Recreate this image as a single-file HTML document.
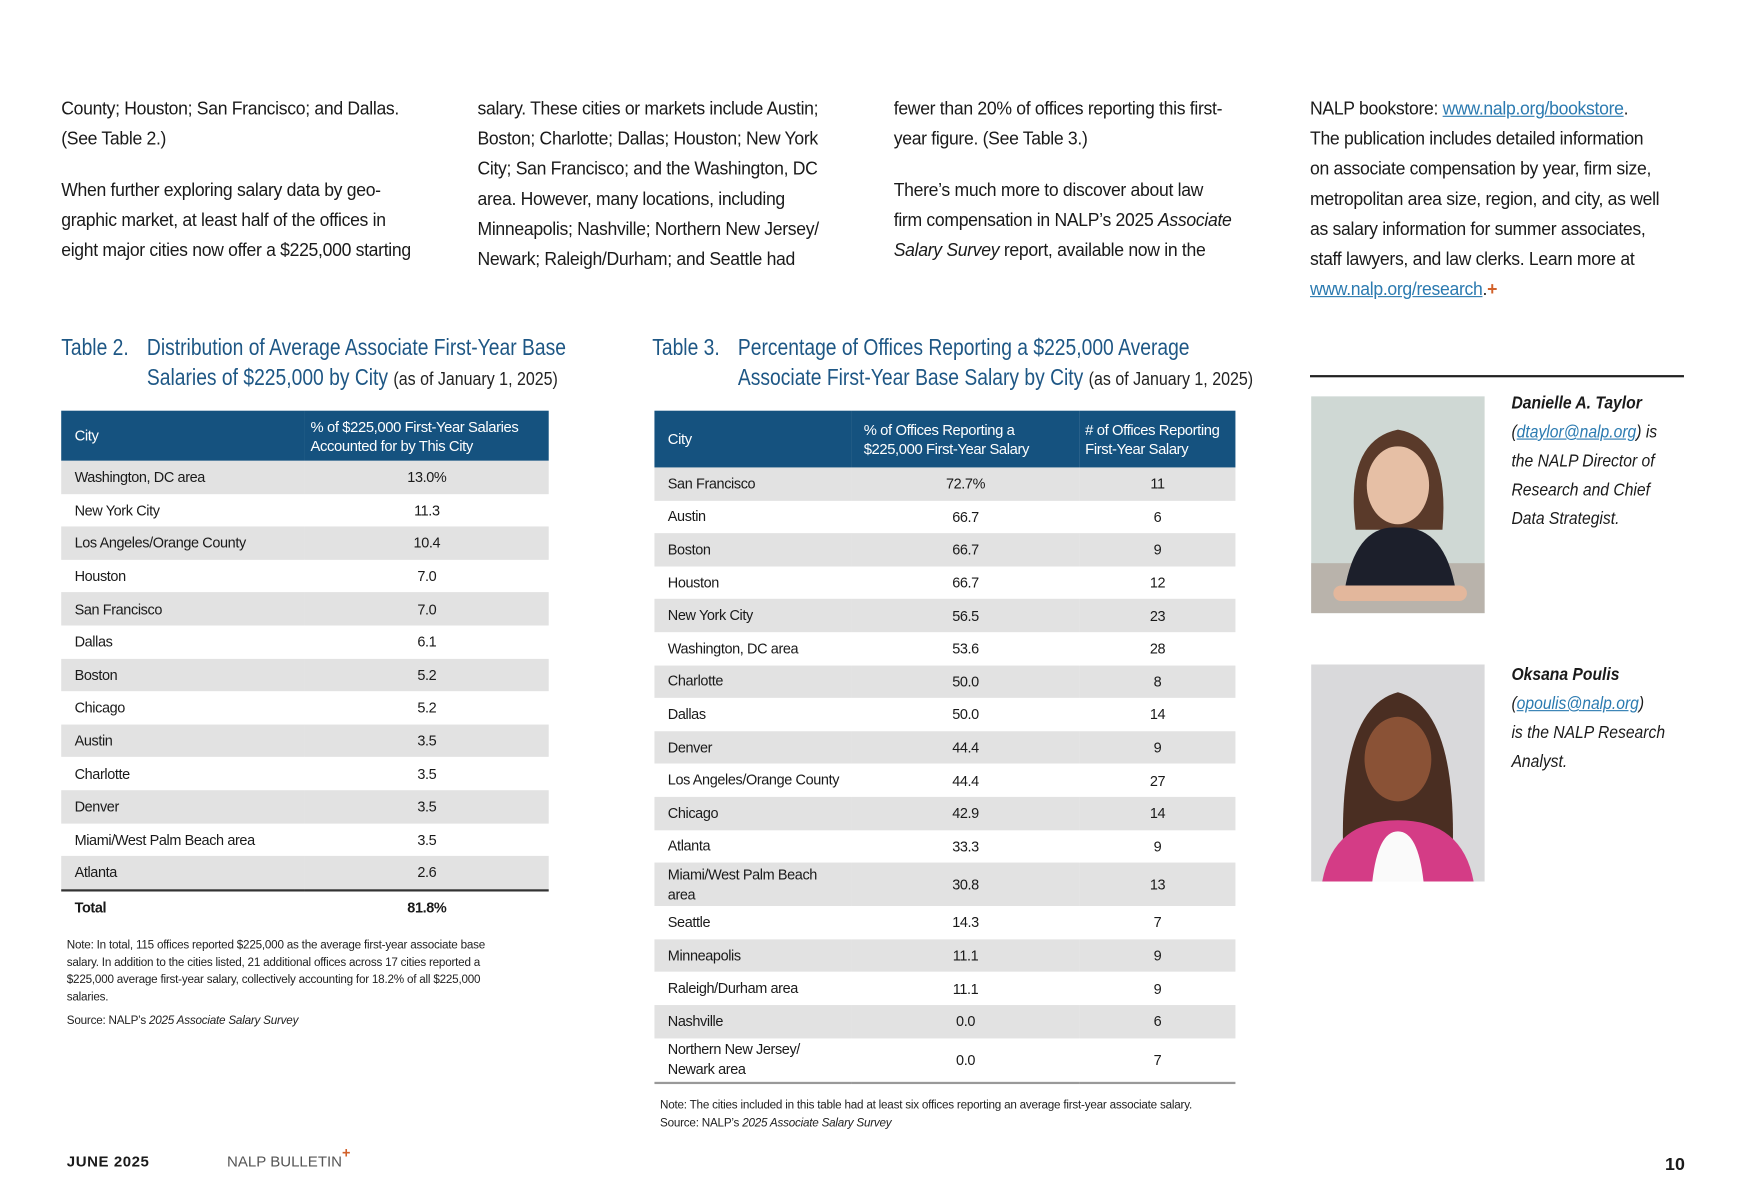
<!DOCTYPE html>
<html><head><meta charset="utf-8">
<style>
html,body{margin:0;padding:0;background:#fff;}
body{width:1745px;height:1200px;overflow:hidden;position:relative;}
#page{position:absolute;left:0;top:0;width:1545px;height:1063px;transform:scale(1.113);transform-origin:0 0;font-family:"Liberation Sans",sans-serif;color:#1a1a1a;}
.abs{position:absolute;}
.col{position:absolute;font-size:17px;line-height:27px;letter-spacing:-0.3px;white-space:nowrap;transform:scaleX(0.93);transform-origin:0 0;}
.col p{margin:0 0 19px 0;}
a{color:#2b7ab0;text-decoration:underline;}
.ttl{position:absolute;color:#1e5785;font-size:20.5px;line-height:27px;white-space:nowrap;transform:scaleX(0.845);transform-origin:0 0;}
.ttl .sm{color:#222;font-size:17px;}
table{border-collapse:collapse;position:absolute;font-size:13px;letter-spacing:-0.35px;table-layout:fixed;}
th{background:#15527f;color:#fff;font-weight:normal;text-align:left;line-height:17px;font-size:13.3px;}
td{height:29.6px;padding:0;}
tr.g td{background:#e2e2e2;}
.note{position:absolute;font-size:10.5px;line-height:15.5px;color:#222;letter-spacing:-0.2px;white-space:nowrap;}
.bio{position:absolute;left:1358px;font-size:16px;line-height:26px;font-style:italic;white-space:nowrap;transform:scaleX(0.88);transform-origin:0 0;}
</style></head>
<body>
<div id="page">
<div class="col" style="left:55px;top:84px;">
<p>County; Houston; San Francisco; and Dallas.<br>(See Table 2.)</p>
<p>When further exploring salary data by geo-<br>graphic market, at least half of the offices in<br>eight major cities now offer a $225,000 starting</p></div>
<div class="col" style="left:429px;top:84px;">
<p>salary. These cities or markets include Austin;<br>Boston; Charlotte; Dallas; Houston; New York<br>City; San Francisco; and the Washington, DC<br>area. However, many locations, including<br>Minneapolis; Nashville; Northern New Jersey/<br>Newark; Raleigh/Durham; and Seattle had</p></div>
<div class="col" style="left:803px;top:84px;">
<p>fewer than 20% of offices reporting this first-<br>year figure. (See Table 3.)</p>
<p>There’s much more to discover about law<br>firm compensation in NALP’s 2025 <i>Associate<br>Salary Survey</i> report, available now in the</p></div>
<div class="col" style="left:1177px;top:84px;">
<p>NALP bookstore: <a>www.nalp.org/bookstore</a>.<br>The publication includes detailed information<br>on associate compensation by year, firm size,<br>metropolitan area size, region, and city, as well<br>as salary information for summer associates,<br>staff lawyers, and law clerks. Learn more at<br><a>www.nalp.org/research</a>.<span style="color:#d2612a;font-weight:bold;">+</span></p></div>

<div class="ttl" style="left:55px;top:299px;">Table 2.</div>
<div class="ttl" style="left:132px;top:299px;">Distribution of Average Associate First-Year Base<br>Salaries of $225,000 by City <span class="sm">(as of January 1, 2025)</span></div>
<table id="t2" style="left:55px;top:369px;width:438px;">
<thead><tr style="height:45px;"><th style="padding-left:12px;width:206px;">City</th><th style="padding-left:5px;">% of $225,000 First-Year Salaries<br>Accounted for by This City</th></tr></thead>
<tbody id="t2b"></tbody></table>
<div class="note" style="left:60px;top:842px;">Note: In total, 115 offices reported $225,000 as the average first-year associate base<br>salary. In addition to the cities listed, 21 additional offices across 17 cities reported a<br>$225,000 average first-year salary, collectively accounting for 18.2% of all $225,000<br>salaries.</div>
<div class="note" style="left:60px;top:910px;">Source: NALP’s <i>2025 Associate Salary Survey</i></div>

<div class="ttl" style="left:586px;top:299px;">Table 3.</div>
<div class="ttl" style="left:663px;top:299px;">Percentage of Offices Reporting a $225,000 Average<br>Associate First-Year Base Salary by City <span class="sm">(as of January 1, 2025)</span></div>
<table id="t3" style="left:588px;top:369px;width:522px;">
<thead><tr style="height:51px;"><th style="padding-left:12px;width:164px;">City</th><th style="width:193px;padding-left:11px;">% of Offices Reporting a<br>$225,000 First-Year Salary</th><th style="padding-left:5px;"># of Offices Reporting<br>First-Year Salary</th></tr></thead>
<tbody id="t3b"></tbody></table>
<div class="note" style="left:593px;top:986px;">Note: The cities included in this table had at least six offices reporting an average first-year associate salary.<br>Source: NALP’s <i>2025 Associate Salary Survey</i></div>

<div class="abs" style="left:1177px;top:337px;width:336px;height:1.5px;background:#222;"></div>
<svg class="abs" style="left:1178px;top:356px;" width="156" height="195">
<rect width="156" height="195" fill="#cfd8d4"/><rect x="0" y="150" width="156" height="45" fill="#b9b3ab"/>
<path d="M40,120 Q30,40 78,30 Q125,38 118,120 Z" fill="#5a3a2a"/>
<ellipse cx="78" cy="80" rx="28" ry="35" fill="#e6bfa5"/>
<path d="M30,175 Q40,115 78,118 Q120,115 130,175 Z" fill="#1c1f2b"/>
<rect x="20" y="170" width="120" height="14" rx="7" fill="#e3b79c"/></svg>
<svg class="abs" style="left:1178px;top:597px;" width="156" height="195">
<rect width="156" height="195" fill="#d9d9db"/>
<path d="M30,195 Q20,40 78,25 Q136,40 126,195 Z" fill="#4a2e22"/>
<ellipse cx="78" cy="85" rx="30" ry="38" fill="#8a5236"/>
<path d="M10,195 Q20,140 78,140 Q136,140 146,195 Z" fill="#d43c86"/>
<path d="M55,195 Q60,150 78,150 Q96,150 101,195 Z" fill="#fafafa"/></svg>
<div class="bio" style="top:350px;"><b>Danielle A. Taylor</b><br>(<a>dtaylor@nalp.org</a>) is<br>the NALP Director of<br>Research and Chief<br>Data Strategist.</div>
<div class="bio" style="top:594px;"><b>Oksana Poulis</b><br>(<a>opoulis@nalp.org</a>)<br>is the NALP Research<br>Analyst.</div>

<div class="abs" style="left:60px;top:1036px;font-size:13.5px;font-weight:bold;letter-spacing:0.5px;">JUNE 2025</div>
<div class="abs" style="left:204px;top:1036px;font-size:13.5px;color:#555;">NALP BULLETIN<span style="color:#d2612a;font-weight:bold;position:relative;top:-8px;font-size:13px;">+</span></div>
<div class="abs" style="left:1496px;top:1038px;font-size:16px;font-weight:bold;">10</div>
</div>
<script>
const t2Cities=["Washington, DC area","New York City","Los Angeles/Orange County","Houston","San Francisco","Dallas","Boston","Chicago","Austin","Charlotte","Denver","Miami/West Palm Beach area","Atlanta"];
const t2Values=["13.0%","11.3","10.4","7.0","7.0","6.1","5.2","5.2","3.5","3.5","3.5","3.5","2.6"];
const t2Total="81.8%";
const t3Cities=["San Francisco","Austin","Boston","Houston","New York City","Washington, DC area","Charlotte","Dallas","Denver","Los Angeles/Orange County","Chicago","Atlanta","Miami/West Palm Beach<br>area","Seattle","Minneapolis","Raleigh/Durham area","Nashville","Northern New Jersey/<br>Newark area"];
const t3Percents=["72.7%","66.7","66.7","66.7","56.5","53.6","50.0","50.0","44.4","44.4","42.9","33.3","30.8","14.3","11.1","11.1","0.0","0.0"];
const t3Counts=["11","6","9","12","23","28","8","14","9","27","14","9","13","7","9","9","6","7"];
function cell(tr,html,style){const td=document.createElement('td');td.innerHTML=html;td.setAttribute('style',style);tr.appendChild(td);return td;}
const b2=document.getElementById('t2b');
t2Cities.forEach((c,i)=>{const tr=document.createElement('tr');if(i%2==0)tr.className='g';


cell(tr,c,'padding-left:12px;');cell(tr,t2Values[i],'text-align:center;');
if(i==t2Cities.length-1)tr.style.borderBottom='2px solid #333';b2.appendChild(tr);});
const tt=document.createElement('tr');


cell(tt,'<b>Total</b>','padding-left:12px;');cell(tt,'<b>'+t2Total+'</b>','text-align:center;');b2.appendChild(tt);
const b3=document.getElementById('t3b');
t3Cities.forEach((c,i)=>{const tr=document.createElement('tr');if(i%2==0)tr.className='g';


const two=c.indexOf('<br>')>=0;
cell(tr,c,'padding-left:12px;line-height:18px;'+(two?'height:39px;':''));
cell(tr,t3Percents[i],'text-align:center;');cell(tr,t3Counts[i],'text-align:center;');
if(i==t3Cities.length-1)tr.style.borderBottom='2px solid #999';b3.appendChild(tr);});
</script>
</body></html>
